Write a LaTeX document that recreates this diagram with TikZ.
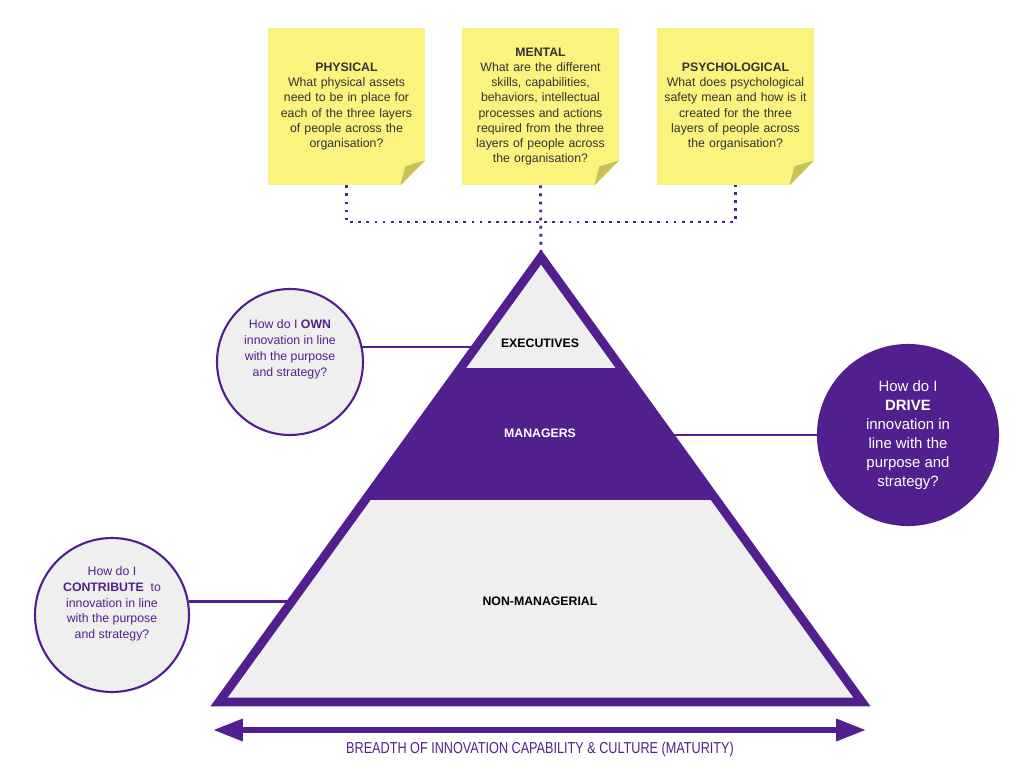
\documentclass[tikz,border=0pt]{standalone}
\usepackage{fontspec}
\setmainfont{Liberation Sans}
\newfontfamily\narrowfont[FakeStretch=0.8]{Liberation Sans}
\usetikzlibrary{arrows.meta,calc}
\definecolor{pyrpurple}{HTML}{52208E}
\definecolor{pyrgrey}{HTML}{EFEFEF}
\definecolor{noteyellow}{HTML}{FAF47E}
\definecolor{notefold}{HTML}{C8C058}
\definecolor{notetext}{HTML}{333333}
\tikzset{
	note/.style={fill=noteyellow, minimum width=31.4mm, minimum height=31.4mm,
			inner sep=0pt, text width=29mm, align=center, text=notetext,
			font=\fontsize{7}{8.6}\selectfont},
	layer/.style={font=\fontsize{7}{8}\selectfont\bfseries},
	question/.style={circle, draw=pyrpurple, line width=1.2pt, fill=pyrgrey,
			inner sep=0pt, align=center, text=pyrpurple,
			font=\fontsize{7}{9}\selectfont},
	link/.style={pyrpurple, line width=1.2pt},
	dots/.style={pyrpurple, line width=1.6pt, dash pattern=on 1.6pt off 3pt}
}
% folded corner of a sticky note
\newcommand{\notecurl}[1]{%
	\fill[white] ($(#1.south east)+(0,-25)$) -- ($(#1.south east)+(1,1)$)
	-- ($(#1.south east)+(-25,1)$) -- cycle;
	\fill[notefold] ($(#1.south east)+(0,-25)$) -- ($(#1.south east)+(-20,-19)$)
	-- ($(#1.south east)+(-25,0)$) -- cycle;
}

\begin{document}
\begin{tikzpicture}[x=0.2mm, y=-0.2mm]
  \useasboundingbox[fill=white] (0,0) rectangle (1024,779);

  % sticky notes
  \node[note] (physical) at (346.5,106.5) {\textbf{PHYSICAL}\\What physical assets\\need to be in place for\\each of the three layers\\of people across the\\organisation?};
  \node[note] (mental) at (540.5,106.5) {\textbf{MENTAL}\\What are the different\\skills, capabilities,\\behaviors, intellectual\\processes and actions\\required from the three\\layers of people across\\the organisation?};
  \node[note] (psychological) at (735.5,106.5) {\textbf{PSYCHOLOGICAL}\\What does psychological\\safety mean and how is it\\created for the three\\layers of people across\\the organisation?};
  \foreach \n in {physical,mental,psychological} {\notecurl{\n}}

  % pyramid
  \coordinate (apex) at (541,257);
  \coordinate (baseL) at (219,702);
  \coordinate (baseR) at (862,702);
  \coordinate (dotL) at (346.5,222);
  \coordinate (dotR) at (735.5,222);
  \draw[dots] (physical.south) -- (dotL) -- (dotR) -- (psychological.south);
  \draw[dots] (mental.south) -- (apex);
  \begin{scope}
    \clip (apex) -- (baseL) -- (baseR) -- cycle;
    \fill[pyrgrey] (200,240) rectangle (880,710);
    \fill[pyrpurple] (200,368) rectangle (880,500);
  \end{scope}
  \draw[pyrpurple, line width=5pt, line join=miter] (apex) -- (baseL) -- (baseR) -- cycle;

  \node[layer] (executives) at (540,343) {EXECUTIVES};
  \node[layer, text=white] (managers) at (540,433) {MANAGERS};
  \node[layer] (nonmanagerial) at (540,601) {NON-MANAGERIAL};

  % questions (text sits above the centre, level with the link)
  \coordinate (ownend) at (476,347);
  \coordinate (driveend) at (670,435);
  \coordinate (contribend) at (292,602);
  \node[question, minimum size=29.2mm] (own) at (290,362) {How do I \textbf{OWN}\\innovation in line\\with the purpose\\and strategy?\\[7pt]\mbox{}};
  \node[question, minimum size=36mm, fill=pyrpurple, text=white,
    font=\fontsize{8.5}{10.8}\selectfont] (drive) at (908,435) {How do I\\\textbf{DRIVE}\\innovation in\\line with the\\purpose and\\strategy?};
  \node[question, minimum size=30.8mm] (contribute) at (112,615) {How do I\\\textbf{CONTRIBUTE}~ to\\innovation in line\\with the purpose\\and strategy?\\[5pt]\mbox{}};
  \draw[link] (own.12) -- (own.12 -| ownend);
  \draw[link] (drive.west) -- (driveend);
  \draw[link] (contribute.10) -- (contribute.10 -| contribend);

  % breadth arrow
  \coordinate (arrowL) at (213,730);
  \coordinate (arrowR) at (866,730);
  \draw[pyrpurple, line width=3.4pt, {Triangle[length=17pt,width=12pt]}-{Triangle[length=17pt,width=12pt]}] (arrowL) -- (arrowR);
  \node[text=pyrpurple, font=\narrowfont\fontsize{9}{10}\selectfont] (breadth) at (540,749) {BREADTH OF INNOVATION CAPABILITY \& CULTURE (MATURITY)};
\end{tikzpicture}
\end{document}
